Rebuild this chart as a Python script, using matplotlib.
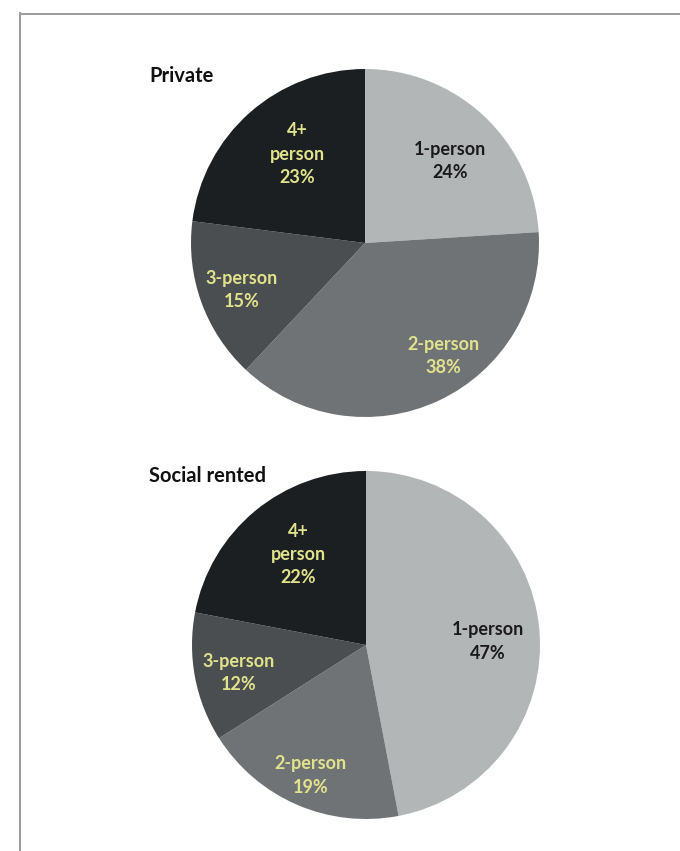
import matplotlib
matplotlib.use("Agg")
import matplotlib.pyplot as plt
from matplotlib.lines import Line2D

# Household size shares by tenure
categories = ["1-person", "2-person", "3-person", "4+\nperson"]
private_share = [24, 38, 15, 23]
social_share = [47, 19, 12, 22]
panel_titles = ["Private", "Social rented"]

slice_colors = ["#b3b6b7", "#707375", "#4b4e50", "#1c1f22"]
label_colors = ["#1a1a1a", "#e1e38c", "#e1e38c", "#e1e38c"]

plt.rcParams['font.family'] = ['Lato', 'DejaVu Sans']

W, H = 680, 851
fig = plt.figure(figsize=(W / 100, H / 100), dpi=100)

R = 174      # pie radius in pixels
CUT = 0.975  # lower edge of the plot area, in radius units


def pie_axes(cx, cy):
    left = (cx - R) / W
    bottom = 1 - (cy + CUT * R) / H
    return fig.add_axes([left, bottom, 2 * R / W, (1 + CUT) * R / H])


def draw(ax, values, label_pos):
    ax.pie(values, colors=slice_colors, startangle=90, counterclock=False,
           radius=1, wedgeprops=dict(linewidth=0))
    ax.set_aspect('auto')
    ax.set_xlim(-1, 1)
    ax.set_ylim(-CUT, 1)
    ax.axis('off')
    for cat, val, (lx, ly), col in zip(categories, values, label_pos, label_colors):
        ax.text(lx, ly, f"{cat}\n{val}%", ha='center', va='center', color=col,
                fontsize=13, fontweight='bold', linespacing=1.45)


private_label_pos = [(0.49, 0.47), (0.45, -0.65), (-0.71, -0.27), (-0.39, 0.51)]
social_label_pos = [(0.70, 0.02), (-0.32, -0.75), (-0.73, -0.16), (-0.39, 0.52)]

ax1 = pie_axes(365, 243)
draw(ax1, private_share, private_label_pos)
ax2 = pie_axes(366, 645)
draw(ax2, social_share, social_label_pos)

fig.text(149 / W, 1 - 76 / H, panel_titles[0], ha='left', va='center',
         fontsize=14.5, fontweight='bold', color='#111111')
fig.text(149 / W, 1 - 476 / H, panel_titles[1], ha='left', va='center',
         fontsize=14.5, fontweight='bold', color='#111111')

# open frame along the top and left edges
fig.add_artist(Line2D([19.5 / W, 19.5 / W], [0, 1 - 13 / H], color='#9c9c9c', lw=1.4))
fig.add_artist(Line2D([19.5 / W, 1], [1 - 13.5 / H, 1 - 13.5 / H], color='#9c9c9c', lw=1.4))

fig.savefig("out.png", dpi=100)
